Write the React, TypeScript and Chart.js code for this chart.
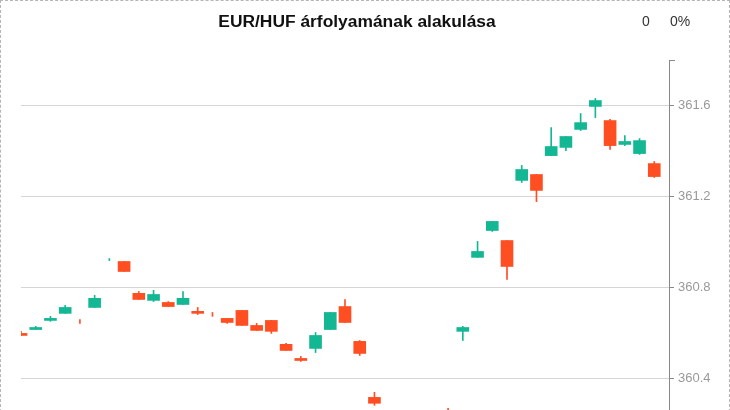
import React, { useEffect, useRef } from "react";
import { Chart, registerables } from "chart.js";

Chart.register(...registerables);

// Day index of each candle (consecutive sessions)
const days: number[] = [
  0, 1, 2, 3, 4, 5, 6, 7, 8, 9, 10, 11, 12, 13, 14, 15, 16, 17, 18, 19, 20, 21,
  22, 23, 24, 25, 26, 27, 28, 29, 30, 31, 32, 33, 34, 35, 36, 37, 38, 39, 40, 41,
  42, 43,
];

const openV: number[] = [
  360.599, 360.616, 360.656, 360.687, 360.652, 360.713, 360.923, 360.915, 360.775, 360.744,
  360.735, 360.726, 360.696, 360.684, 360.665, 360.700, 360.634, 360.656, 360.551, 360.489,
  360.533, 360.616, 360.717, 360.564, 360.318, 360.240, 360.190, 360.210, 360.170, 360.240,
  360.608, 360.933, 361.051, 361.007, 361.271, 361.297, 361.380, 361.416, 361.495, 361.596,
  361.534, 361.429, 361.389, 361.345,
];
const highV: number[] = [
  360.608, 360.630, 360.674, 360.722, 360.660, 360.766, 360.928, 360.915, 360.783, 360.788,
  360.739, 360.783, 360.713, 360.691, 360.665, 360.700, 360.643, 360.656, 360.555, 360.498,
  360.603, 360.691, 360.748, 360.568, 360.340, 360.240, 360.230, 360.240, 360.220, 360.270,
  360.630, 361.003, 361.091, 361.007, 361.337, 361.297, 361.503, 361.464, 361.565, 361.631,
  361.539, 361.468, 361.455, 361.354,
];
const lowV: number[] = [
  360.590, 360.616, 360.652, 360.687, 360.643, 360.713, 360.919, 360.871, 360.748, 360.739,
  360.717, 360.726, 360.682, 360.674, 360.643, 360.634, 360.612, 360.599, 360.524, 360.476,
  360.515, 360.616, 360.647, 360.502, 360.283, 360.170, 360.140, 360.150, 360.120, 360.180,
  360.568, 360.933, 361.047, 360.836, 361.262, 361.178, 361.380, 361.402, 361.490, 361.547,
  361.407, 361.424, 361.385, 361.284,
];
const closeV: number[] = [
  360.590, 360.625, 360.665, 360.713, 360.651, 360.753, 360.924, 360.871, 360.748, 360.770,
  360.717, 360.753, 360.687, 360.683, 360.647, 360.634, 360.612, 360.608, 360.524, 360.480,
  360.590, 360.691, 360.647, 360.511, 360.292, 360.190, 360.210, 360.170, 360.200, 360.200,
  360.625, 360.959, 361.091, 360.893, 361.319, 361.227, 361.420, 361.464, 361.525, 361.622,
  361.424, 361.442, 361.446, 361.288,
];

const yTicks: number[] = [360.4, 360.8, 361.2, 361.6];
const title = "EUR/HUF árfolyamának alakulása";

const UP = "#14b794";
const DOWN = "#ff4f22";

export default function App() {
  const ref = useRef<HTMLCanvasElement | null>(null);

  useEffect(() => {
    if (!ref.current) return;
    const colors = days.map((_, i) => (closeV[i] > openV[i] ? UP : DOWN));
    const outerTick = {
      id: "outerTick",
      afterDraw(chart: any) {
        const { ctx, chartArea } = chart;
        ctx.save();
        ctx.strokeStyle = "#888";
        ctx.lineWidth = 1;
        ctx.beginPath();
        ctx.moveTo(chartArea.right, Math.round(chartArea.top) + 0.5);
        ctx.lineTo(chartArea.right + 6, Math.round(chartArea.top) + 0.5);
        ctx.stroke();
        ctx.restore();
      },
    };
    const chart = new Chart(ref.current, {
      type: "bar",
      data: {
        datasets: [
          {
            label: "wick",
            data: days.map((d, i) => ({ x: d, y: [lowV[i], highV[i]] })) as any,
            backgroundColor: colors,
            barThickness: 1,
            grouped: false,
            order: 2,
          } as any,
          {
            label: "body",
            // doji candles (open ≈ close) have no visible body
            data: days.map((d, i) =>
              Math.abs(closeV[i] - openV[i]) < 0.002
                ? { x: d, y: null }
                : { x: d, y: [openV[i], closeV[i]] }
            ) as any,
            backgroundColor: colors,
            barThickness: 12,
            grouped: false,
            order: 1,
          } as any,
        ],
      },
      options: {
        animation: false,
        responsive: false,
        maintainAspectRatio: false,
        layout: { padding: { left: 21, top: 60, right: 0, bottom: 0 } },
        plugins: {
          legend: { display: false },
          tooltip: { enabled: false },
          title: { display: false },
        },
        scales: {
          x: {
            type: "linear",
            min: 0,
            max: 44,
            display: false,
            offset: false,
          },
          y: {
            position: "right",
            min: 360.1,
            max: 361.8,
            afterBuildTicks: (scale: any) => {
              scale.ticks = yTicks.map((v) => ({ value: v }));
            },
            afterFit: (scale: any) => {
              scale.width = 61;
              scale.paddingTop = 0;
              scale.paddingBottom = 0;
            },
            border: { display: true, color: "#888", width: 1 },
            grid: {
              color: "#d6d6d6",
              tickColor: "#888",
              tickLength: 5,
              drawOnChartArea: true,
            },
            ticks: {
              color: "#999",
              padding: 4,
              font: { family: "'Liberation Sans', Arial, sans-serif", size: 13 },
              callback: (v: any) => Number(v).toFixed(1),
            },
          },
        },
      },
      plugins: [outerTick],
    });
    return () => chart.destroy();
  }, []);

  return (
    <div
      style={{
        position: "fixed",
        left: 0,
        top: 0,
        width: 730,
        height: 410,
        overflow: "hidden",
        background: "#fff",
      }}
    >
      <canvas
        ref={ref}
        width={730}
        height={447}
        style={{ position: "absolute", left: 0, top: 0, width: 730, height: 447 }}
      />
      <div
        style={{
          position: "absolute",
          left: 0,
          top: 11,
          width: 714,
          textAlign: "center",
          font: "bold 17.4px 'Liberation Sans', Arial, sans-serif",
          lineHeight: "20px",
          color: "#111",
        }}
      >
        {title}
      </div>
      <div
        style={{
          position: "absolute",
          left: 642,
          top: 13,
          font: "14px 'Liberation Sans', Arial, sans-serif",
          lineHeight: "16px",
          color: "#333",
        }}
      >
        0
      </div>
      <div
        style={{
          position: "absolute",
          left: 670,
          top: 13,
          font: "14px 'Liberation Sans', Arial, sans-serif",
          lineHeight: "16px",
          color: "#333",
        }}
      >
        0%
      </div>
      <div
        style={{
          position: "absolute",
          left: 0,
          top: 0,
          width: 730,
          height: 447,
          boxSizing: "border-box",
          border: "1px dashed #b5b5b5",
          pointerEvents: "none",
        }}
      />
    </div>
  );
}
